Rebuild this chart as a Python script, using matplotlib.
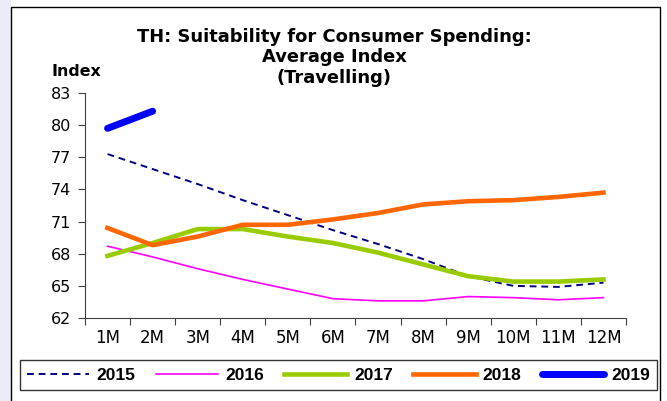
import matplotlib
matplotlib.use("Agg")
import matplotlib.pyplot as plt
from matplotlib.patches import Rectangle

plt.rcParams["font.family"] = ["DejaVu Sans"]

months = ["1M", "2M", "3M", "4M", "5M", "6M", "7M", "8M", "9M", "10M", "11M", "12M"]
y2015 = [77.3, 75.9, 74.5, 73.0, 71.6, 70.2, 68.9, 67.5, 65.9, 65.0, 64.9, 65.3]
y2016 = [68.7, 67.7, 66.6, 65.6, 64.7, 63.8, 63.6, 63.6, 64.0, 63.9, 63.7, 63.9]
y2017 = [67.8, 69.0, 70.3, 70.3, 69.6, 69.0, 68.1, 67.0, 65.9, 65.4, 65.4, 65.6]
y2018 = [70.4, 68.8, 69.6, 70.7, 70.7, 71.2, 71.8, 72.6, 72.9, 73.0, 73.3, 73.7]
y2019 = [79.7, 81.3]

yticks = [62, 65, 68, 71, 74, 77, 80, 83]

fig = plt.figure(figsize=(6.67, 4.01), dpi=100)
fig.patch.set_facecolor("white")

# lavender strip on the left and outer frame
fig.patches.append(Rectangle((0, 0), 11 / 667, 1, transform=fig.transFigure,
                             facecolor="#ececf6", edgecolor="none", zorder=-2))
fig.patches.append(Rectangle((11 / 667, -0.01), 649 / 667, 1 - 7 / 401 + 0.01,
                             transform=fig.transFigure, facecolor="white",
                             edgecolor="black", linewidth=1.0, zorder=-1))

ax = fig.add_axes([85 / 667, 1 - 318 / 401, 541 / 667, 225 / 401])
ax.set_facecolor("none")

x = list(range(1, len(months) + 1))
ax.plot(x, y2015, color="#000080", lw=1.4, ls=(0, (3.5, 2.5)), label="2015")
ax.plot(x, y2016, color="#ff00ff", lw=1.2, label="2016")
ax.plot(x, y2017, color="#99cc00", lw=3.3, label="2017")
ax.plot(x, y2018, color="#ff6600", lw=3.3, label="2018")
ax.plot(x[:len(y2019)], y2019, color="#0000ff", lw=5, solid_capstyle="round", label="2019")

ax.set_xlim(0.5, 12.5)
ax.set_ylim(62, 83)
ax.set_yticks(yticks)
ax.set_yticklabels([str(v) for v in yticks], fontsize=11.5)
ax.set_xticks(x)
ax.set_xticklabels(months, fontsize=12)
ax.set_xticks([i + 0.5 for i in range(0, 13)], minor=True)
ax.tick_params(axis="x", which="major", length=0, pad=8)
ax.tick_params(axis="x", which="minor", length=5, color="#404040", width=0.8)
ax.tick_params(axis="y", length=5, color="#404040", width=0.8, pad=5)
for side in ["top", "right"]:
    ax.spines[side].set_visible(False)
for side in ["left", "bottom"]:
    ax.spines[side].set_color("#404040")
    ax.spines[side].set_linewidth(0.8)

fig.text(334 / 667, 1 - 57.5 / 401,
         "TH: Suitability for Consumer Spending:\nAverage Index\n(Travelling)",
         ha="center", va="center", fontsize=12.9, fontweight="bold", linespacing=1.17)
fig.text(76 / 667, 1 - 72 / 401, "Index", ha="center", va="center",
         fontsize=11.4, fontweight="bold")

leg = fig.legend(loc="center", bbox_to_anchor=(338.5 / 667, 1 - 375 / 401), ncol=5,
                 frameon=True, fancybox=False, handlelength=3.6, handletextpad=0.4,
                 columnspacing=1.18, borderpad=0.4,
                 prop={"family": "Liberation Sans", "weight": "bold", "size": 12.5})
leg.get_frame().set_edgecolor("black")
leg.get_frame().set_linewidth(1.0)

fig.savefig("out.png", dpi=100)
